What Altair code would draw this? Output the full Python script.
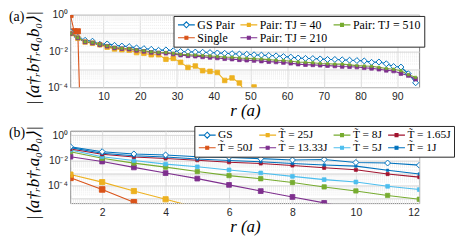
import altair as alt
import pandas as pd

# ---------------- Panel (a) data ----------------
r_a = [1, 3, 5, 7, 9, 11, 13, 15, 17, 19, 21, 23, 25, 27, 29, 31, 33, 35, 37, 39,
       41, 43, 45, 47, 49, 51, 53, 55, 57, 59, 61, 63, 65, 67, 69, 71, 73, 75, 77, 79,
       81, 83, 85, 87, 89, 91, 93, 95]
gs_pair_a = [1.17e-1, 5.62e-2, 3.98e-2, 3.55e-2, 2.40e-2, 2.51e-2, 2.09e-2, 1.91e-2, 1.78e-2, 1.51e-2,
             1.38e-2, 1.26e-2, 1.12e-2, 1.17e-2, 1.05e-2, 9.55e-3, 9.33e-3, 8.91e-3, 8.71e-3, 8.32e-3,
             7.94e-3, 7.59e-3, 7.24e-3, 6.92e-3, 6.76e-3, 6.31e-3, 6.03e-3, 5.75e-3, 5.50e-3, 5.01e-3,
             4.68e-3, 4.17e-3, 3.98e-3, 3.89e-3, 3.72e-3, 3.47e-3, 3.47e-3, 3.31e-3, 3.16e-3, 3.02e-3,
             2.88e-3, 2.40e-3, 2.51e-3, 2.00e-3, 1.41e-3, 1.32e-3, 5.62e-4, 1.78e-4]
pair510_a = [9.33e-2, 5.50e-2, 3.31e-2, 2.95e-2, 2.40e-2, 1.95e-2, 1.58e-2, 1.45e-2, 1.38e-2, 1.17e-2,
             1.05e-2, 9.12e-3, 8.51e-3, 8.32e-3, 7.59e-3, 6.61e-3, 6.31e-3, 6.03e-3, 5.62e-3, 5.37e-3,
             5.01e-3, 4.68e-3, 4.57e-3, 4.17e-3, 3.98e-3, 3.80e-3, 3.63e-3, 3.39e-3, 3.16e-3, 3.02e-3,
             2.75e-3, 2.51e-3, 2.40e-3, 2.29e-3, 2.09e-3, 2.00e-3, 1.91e-3, 1.91e-3, 1.74e-3, 1.58e-3,
             1.51e-3, 1.45e-3, 1.26e-3, 1.10e-3, 1.00e-3, 8.32e-4, 5.01e-4, 3.55e-4]
pair210_a = [9.33e-2, 5.37e-2, 3.24e-2, 2.82e-2, 2.29e-2, 1.86e-2, 1.51e-2, 1.38e-2, 1.29e-2, 1.10e-2,
             9.77e-3, 8.51e-3, 7.94e-3, 7.59e-3, 6.92e-3, 6.03e-3, 5.50e-3, 5.25e-3, 4.79e-3, 4.47e-3,
             4.17e-3, 3.80e-3, 3.63e-3, 3.31e-3, 3.16e-3, 3.02e-3, 2.82e-3, 2.63e-3, 2.51e-3, 2.34e-3,
             2.14e-3, 1.91e-3, 1.78e-3, 1.74e-3, 1.66e-3, 1.58e-3, 1.51e-3, 1.41e-3, 1.38e-3, 1.32e-3,
             1.20e-3, 1.12e-3, 1.00e-3, 8.71e-4, 7.94e-4, 5.75e-4, 4.47e-4, 2.82e-4]
r_pair40_a = [1, 3, 5, 7, 9, 11, 13, 15, 17, 19, 21, 23, 25, 27, 29, 31, 33, 35, 37, 39,
              41, 43, 45, 47, 49, 51, 53]
pair40_a = [9.33e-2, 5.25e-2, 3.16e-2, 2.75e-2, 2.24e-2, 1.66e-2, 1.32e-2, 1.20e-2, 1.12e-2, 8.32e-3,
            7.59e-3, 6.31e-3, 6.31e-3, 3.55e-3, 3.98e-3, 2.40e-3, 1.26e-3, 1.51e-3, 8.32e-4, 7.59e-4,
            6.61e-4, 2.40e-4, 3.31e-4, 1.74e-4, 3.98e-5, 1.05e-4, 1.58e-5]
r_single_a = [1, 2, 3, 4]
single_a = [1.0, 1.25e-1, 1.25e-1, 1.0e-8]

# legend order (filled column by column, 2 rows)
names_a = ["GS Pair", "Single", "Pair: TJ = 40", "Pair: TJ = 210", "Pair: TJ = 510"]
colors_a = ["#0072BD", "#D95319", "#EDB120", "#7E2F8E", "#77AC30"]

# ---------------- Panel (b) data ----------------
r_b = [1, 2, 3, 4, 5, 6, 7, 8, 9, 10, 11, 12]
gs_b = [1.23e-1, 5.01e-2, 3.31e-2, 2.75e-2, 2.00e-2, 1.78e-2, 1.41e-2, 1.10e-2, 1.20e-2, 6.92e-3, 6.31e-3, 4.27e-3]
t1_b = [1.05e-1, 3.72e-2, 2.40e-2, 1.91e-2, 1.32e-2, 1.00e-2, 7.94e-3, 5.75e-3, 4.37e-3, 3.55e-3, 1.66e-3, 8.51e-4]
t165_b = [8.13e-2, 3.09e-2, 1.91e-2, 1.45e-2, 1.05e-2, 7.24e-3, 5.75e-3, 3.98e-3, 2.63e-3, 1.82e-3, 8.32e-4, 4.79e-4]
t5_b = [6.76e-2, 2.00e-2, 1.00e-2, 5.13e-3, 3.16e-3, 1.78e-3, 1.02e-3, 5.50e-4, 3.02e-4, 1.95e-4, 8.91e-5, 4.90e-5]
t8_b = [5.01e-2, 1.51e-2, 6.17e-3, 2.95e-3, 1.32e-3, 6.31e-4, 3.55e-4, 1.78e-4, 7.94e-5, 3.80e-5, 1.66e-5, 8.32e-6]
t1333_b = [2.00e-2, 8.32e-3, 2.82e-3, 1.00e-3, 3.63e-4, 1.15e-4, 3.72e-5, 1.26e-5, 4.27e-6, 1.41e-6]
t25_b = [7.59e-4, 1.91e-4, 3.72e-5, 8.32e-6, 1.78e-6]
t50_b = [4.17e-4, 5.01e-5, 4.79e-6, 5.01e-7]

names_b = ["GS", "T\u0303 = 50J", "T\u0303 = 25J", "T\u0303 = 13.33J",
           "T\u0303 = 8J", "T\u0303 = 5J", "T\u0303 = 1.65J", "T\u0303 = 1J"]
colors_b = ["#0072BD", "#D95319", "#EDB120", "#7E2F8E", "#77AC30", "#4DBEEE", "#A2142F", "#0072BD"]


def frame(pairs):
    rows = []
    for name, rs, vs in pairs:
        for r, v in zip(rs, vs):
            rows.append({"r": r, "v": v, "s": name})
    return pd.DataFrame(rows)


df_a = frame([
    ("Single", r_single_a, single_a),
    ("GS Pair", r_a, gs_pair_a),
    ("Pair: TJ = 40", r_pair40_a, pair40_a),
    ("Pair: TJ = 210", r_a, pair210_a),
    ("Pair: TJ = 510", r_a, pair510_a),
])
df_b = frame([
    ("T\u0303 = 50J", r_b[:len(t50_b)], t50_b),
    ("T\u0303 = 25J", r_b[:len(t25_b)], t25_b),
    ("T\u0303 = 13.33J", r_b[:len(t1333_b)], t1333_b),
    ("T\u0303 = 8J", r_b, t8_b),
    ("T\u0303 = 5J", r_b, t5_b),
    ("T\u0303 = 1.65J", r_b, t165_b),
    ("T\u0303 = 1J", r_b, t1_b),
    ("GS", r_b, gs_b),
])

DIAMOND_LEG = "M-1.7,0H-0.6M0.6,0H1.7M0,-0.6L0.6,0L0,0.6L-0.6,0Z"
SQUARE_LEG = "M-1.7,0H1.7M-0.3,-0.3H0.3V0.3H-0.3Z"


def log_ticks(lo_e, hi_e, lo, hi):
    out = []
    for e in range(lo_e, hi_e + 1):
        for k in range(1, 10):
            v = float(f"{k}e{e}")
            if lo <= v <= hi:
                out.append(v)
    return out


MAJOR = "indexof([1, 0.1, 0.01, 0.001, 0.0001, 0.00001, 0.000001], datum.value) >= 0"
LABELS = ("datum.value == 1 ? '10\u2070' : datum.value == 0.01 ? '10\u207b\u00b2' : "
          "datum.value == 0.0001 ? '10\u207b\u2074' : ''")
YTITLE = "|\u27e8a\u2020\u1d63b\u2020\u1d63a\u2080b\u2080\u27e9|"


def panel(df, names, colors, gs_name, xdom, xvals, ydom, yvals, leg, label, title_y):
    fills = ["white" if n == gs_name else c for n, c in zip(names, colors)]
    shapes = ["diamond" if n == gs_name else "square" for n in names]
    sizes = [36 if n == gs_name else 6 for n in names]
    widths = [1.0 if n == gs_name else 0.6 for n in names]
    legshapes = [DIAMOND_LEG if n == gs_name else SQUARE_LEG for n in names]

    x = alt.X("r:Q", scale=alt.Scale(domain=xdom, nice=False, zero=False),
              axis=alt.Axis(values=xvals, title="r  (a)", grid=True, gridColor="#dcdcdc",
                            domain=False, ticks=False, labelPadding=4,
                            labelFont="Liberation Sans", labelFontSize=10.5, labelColor="#262626",
                            titleFont="Liberation Serif", titleFontStyle="italic",
                            titleFontWeight="normal", titleFontSize=17, titleColor="black",
                            titlePadding=1))
    y = alt.Y("v:Q", scale=alt.Scale(type="log", domain=ydom, nice=False),
              axis=alt.Axis(values=yvals, labelExpr=LABELS, title=YTITLE, grid=True,
                            gridColor={"condition": {"test": MAJOR, "value": "#d6d6d6"}, "value": "#ececec"},
                            gridDash={"condition": {"test": MAJOR, "value": []}, "value": [1, 1]},
                            domain=False, ticks=False, labelPadding=3,
                            labelFont="Liberation Sans", labelFontSize=10.5, labelColor="#262626",
                            labelOverlap=False,
                            titleFont="Liberation Serif", titleFontStyle="italic",
                            titleFontWeight="normal", titleFontSize=17, titleColor="black",
                            titleAngle=270, titleX=-37, titleY=title_y, titleAlign="center",
                            titleBaseline="middle"))

    def st(legend=None):
        return alt.Stroke("s:N", scale=alt.Scale(domain=names, range=colors), legend=legend)

    lines = alt.Chart(df).mark_line(clip=True, strokeWidth=1.1).encode(
        x=x, y=y, stroke=st(), order="r:Q")
    pts = alt.Chart(df).mark_point(clip=True, filled=True, opacity=1).encode(
        x=x, y=y, stroke=st(),
        fill=alt.Fill("s:N", scale=alt.Scale(domain=names, range=fills), legend=None),
        shape=alt.Shape("s:N", scale=alt.Scale(domain=names, range=shapes), legend=None),
        size=alt.Size("s:N", scale=alt.Scale(domain=names, range=sizes), legend=None),
        strokeWidth=alt.StrokeWidth("s:N", scale=alt.Scale(domain=names, range=widths), legend=None))
    first = df.groupby("s", as_index=False).first()
    legd = alt.Chart(first).mark_point(filled=True, opacity=0).encode(
        x=x, y=y, stroke=st(leg),
        fill=alt.Fill("s:N", scale=alt.Scale(domain=names, range=fills), legend=leg),
        shape=alt.Shape("s:N", scale=alt.Scale(domain=names, range=legshapes), legend=leg))
    lab = alt.Chart(pd.DataFrame({"t": [label]})).mark_text(
        align="left", baseline="middle", font="Liberation Serif", fontSize=14, color="black"
    ).encode(x=alt.value(-62), y=alt.value(2), text="t:N")
    return alt.layer(lines, pts, legd, lab).resolve_scale(
        stroke="independent", fill="independent", shape="independent", size="independent",
        strokeWidth="independent"
    ).properties(width=352, height=73)


def legend(x, y, cols, fs, colpad):
    return alt.Legend(title=None, orient="none", legendX=x, legendY=y, columns=cols,
                      labelFont="Liberation Serif", labelFontSize=fs, labelColor="black",
                      symbolSize=100, symbolStrokeWidth=1.1, symbolOpacity=1,
                      symbolOffset=4, labelOffset=5, columnPadding=colpad, rowPadding=1,
                      padding=3, fillColor="white", strokeColor="#262626", cornerRadius=0,
                      labelLimit=300, gridAlign="each")


pa = panel(df_a, names_a, colors_a, "GS Pair", [1, 96], [10, 20, 30, 40, 50, 60, 70, 80, 90],
           [1e-4, 1], log_ticks(-4, 0, 1e-4, 1), legend(104, 1, 3, 12, 3), "(a)", 43)
pb = panel(df_b, names_b, colors_b, "GS", [1, 12], [2, 4, 6, 8, 10, 12],
           [3.98e-6, 2.24], log_ticks(-6, 0, 3.98e-6, 2.24), legend(125, -5, 4, 11.5, 3), "(b)", 42)

chart = alt.vconcat(pa, pb, spacing=6).properties(
    padding={"left": 0, "top": 0, "right": 0, "bottom": 0}, background="white"
).configure_view(stroke="#666666", strokeWidth=0.8)

chart.save("out.html", embed_options={"renderer": "svg", "actions": False})
